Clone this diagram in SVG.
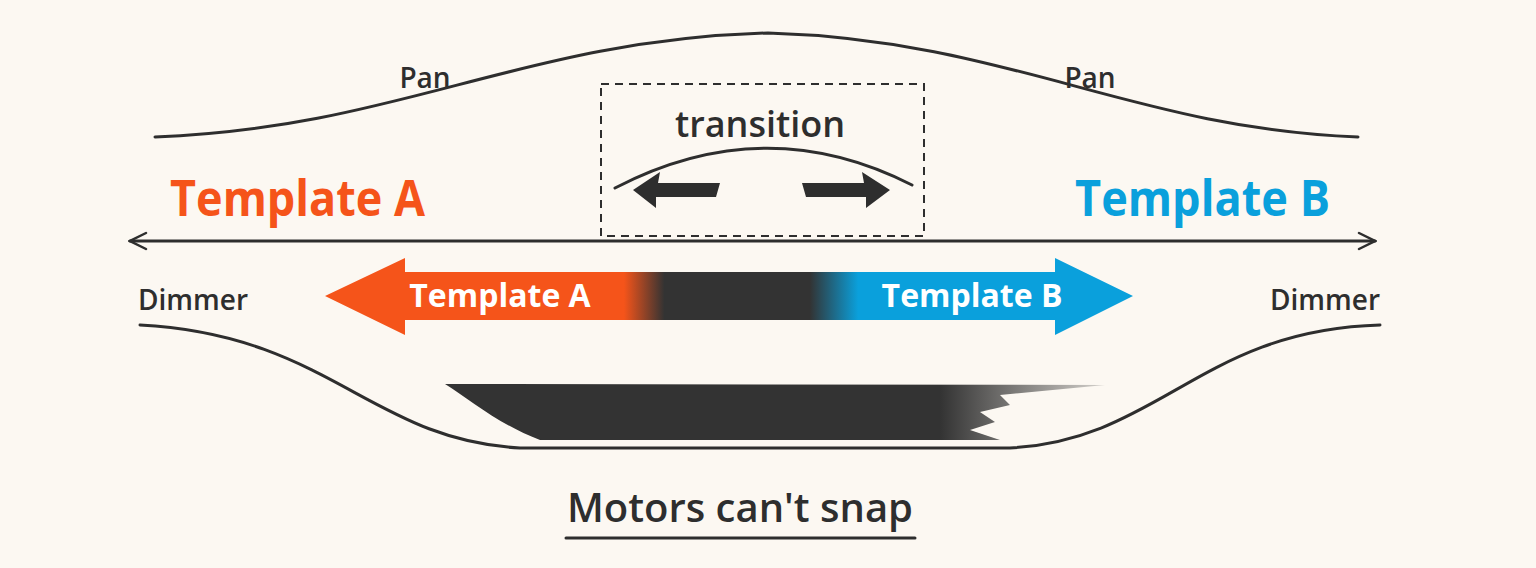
<svg xmlns="http://www.w3.org/2000/svg" width="1536" height="568" viewBox="0 0 1536 568">
<style>
.ln{fill:none;stroke:#2e2e2e;stroke-width:3;stroke-linecap:round}
.hand{font-family:"Open Sans","Liberation Sans",sans-serif;fill:#2e2e2e;font-weight:600}
.big{font-family:"Open Sans","Liberation Sans",sans-serif;font-weight:700;font-size:50px}
.wt{font-family:"Open Sans","Liberation Sans",sans-serif;font-weight:700;font-size:32px;fill:#fff}
</style>
<defs>
<linearGradient id="g" x1="325" y1="0" x2="1133" y2="0" gradientUnits="userSpaceOnUse">
<stop offset="0" stop-color="#f5541a"/><stop offset="0.37" stop-color="#f5541a"/>
<stop offset="0.42" stop-color="#333"/><stop offset="0.6" stop-color="#333"/>
<stop offset="0.66" stop-color="#0aa0dc"/><stop offset="1" stop-color="#0aa0dc"/>
</linearGradient>
<linearGradient id="br" x1="445" y1="0" x2="1105" y2="0" gradientUnits="userSpaceOnUse">
<stop offset="0" stop-color="#333"/><stop offset="0.75" stop-color="#333"/><stop offset="1" stop-color="#333" stop-opacity="0.2"/>
</linearGradient>
<marker id="ah" viewBox="0 0 20 20" refX="18" refY="10" markerWidth="20" markerHeight="20" markerUnits="userSpaceOnUse" orient="auto-start-reverse">
<path d="M2 2 L18 10 L2 18" fill="none" stroke="#2e2e2e" stroke-width="2.5" stroke-linecap="round"/>
</marker>
</defs>
<rect width="1536" height="568" fill="#fcf8f2"/>
<g id="connectors">
<path class="ln" d="M155 137 C400 128 520 40 768 33 C1010 40 1130 128 1358 137"/>
<path class="ln" d="M130 241 L1375 241" marker-start="url(#ah)" marker-end="url(#ah)"/>
<path class="ln" d="M140 325 C330 335 370 440 520 448 L1010 448 C1160 440 1200 330 1380 325"/>
<path class="ln" d="M566 538 L915 538"/>
</g>
<g id="pan-labels">
<text class="hand" x="425" y="88" font-size="28" text-anchor="middle">Pan</text>
<text class="hand" x="1090" y="88" font-size="28" text-anchor="middle">Pan</text>
</g>
<g id="transition">
<rect x="601" y="84" width="323" height="152" fill="none" stroke="#2e2e2e" stroke-width="2" stroke-dasharray="8 6"/>
<text class="hand" x="760" y="137" font-size="36" text-anchor="middle">transition</text>
<path class="ln" d="M615 188 Q765 110 912 185"/>
<path d="M633 190 L660 172 L658 183 L720 183 L716 197 L656 197 L656 208 Z" fill="#2e2e2e"/>
<path d="M890 190 L862 172 L864 183 L802 183 L806 197 L866 197 L866 208 Z" fill="#2e2e2e"/>
</g>
<g id="templates-top">
<text class="big" x="170" y="216" fill="#f5541a" textLength="255" lengthAdjust="spacingAndGlyphs">Template A</text>
<text class="big" x="1075" y="216" fill="#0aa0dc" textLength="255" lengthAdjust="spacingAndGlyphs">Template B</text>
</g>
<g id="gradient-arrow">
<path d="M325 296 L405 258 L405 272 L1055 272 L1055 258 L1133 296 L1055 335 L1055 320 L405 320 L405 335 Z" fill="url(#g)"/>
<text class="wt" x="500" y="307" text-anchor="middle">Template A</text>
<text class="wt" x="972" y="307" text-anchor="middle">Template B</text>
</g>
<g id="dimmer-labels">
<text class="hand" x="193" y="310" font-size="28" text-anchor="middle">Dimmer</text>
<text class="hand" x="1325" y="310" font-size="28" text-anchor="middle">Dimmer</text>
</g>
<g id="brush">
<path d="M445 384 L1105 385 L1000 395 L1010 405 L980 412 L995 422 L970 430 L1000 440 L540 440 C500 425 470 400 445 384 Z" fill="url(#br)"/>
</g>
<g id="caption">
<text class="hand" x="740" y="522" font-size="40" text-anchor="middle">Motors can't snap</text>
</g>
</svg>
